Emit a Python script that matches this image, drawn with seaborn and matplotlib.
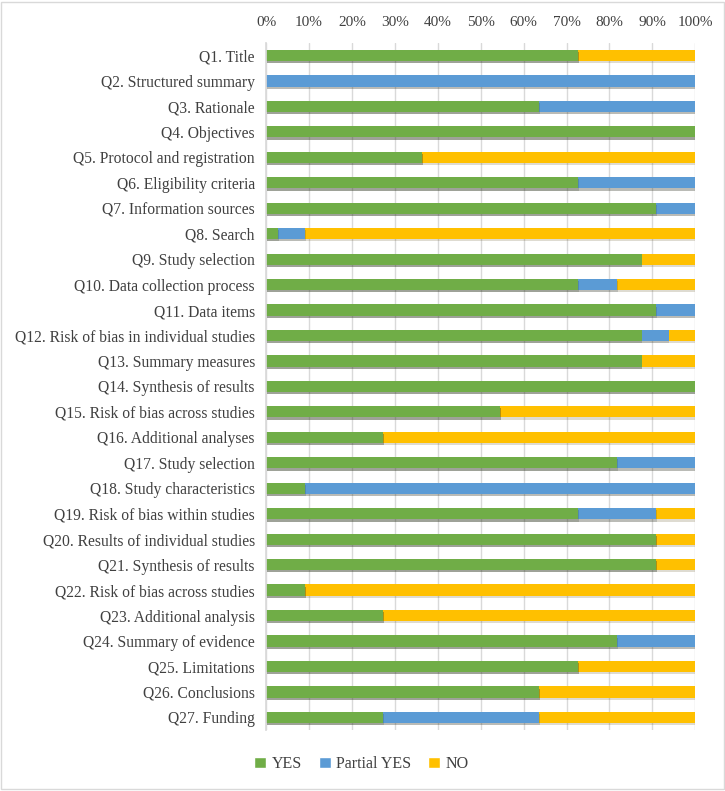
import pandas as pd
import matplotlib
matplotlib.use('Agg')
import matplotlib.pyplot as plt
import matplotlib.patheffects as pe
from matplotlib.patches import Patch, Rectangle
from matplotlib.ticker import PercentFormatter
import seaborn as sns

# Questions (top to bottom) and share of studies per answer, in percent
QUESTIONS = ["Q1. Title", "Q2. Structured summary", "Q3. Rationale", "Q4. Objectives",
             "Q5. Protocol and registration", "Q6. Eligibility criteria",
             "Q7. Information sources", "Q8. Search", "Q9. Study selection",
             "Q10. Data collection process", "Q11. Data items",
             "Q12. Risk of bias in individual studies", "Q13. Summary measures",
             "Q14. Synthesis of results", "Q15. Risk of bias across studies",
             "Q16. Additional analyses", "Q17. Study selection",
             "Q18. Study characteristics", "Q19. Risk of bias within studies",
             "Q20. Results of individual studies", "Q21. Synthesis of results",
             "Q22. Risk of bias across studies", "Q23. Additional analysis",
             "Q24. Summary of evidence", "Q25. Limitations", "Q26. Conclusions",
             "Q27. Funding"]

YES = [72.7, 0, 63.6, 100, 36.4, 72.7, 90.9, 2.8, 87.5, 72.7, 90.9, 87.5, 87.5, 100,
       54.5, 27.3, 81.8, 9.1, 72.7, 90.9, 90.9, 9.1, 27.3, 81.8, 72.7, 63.6, 27.3]
PARTIAL = [0, 100, 36.4, 0, 0, 27.3, 9.1, 6.3, 0, 9.1, 9.1, 6.3, 0, 0,
           0, 0, 18.2, 90.9, 18.2, 0, 0, 0, 0, 18.2, 0, 0, 36.4]
NO = [27.3, 0, 0, 0, 63.6, 0, 0, 90.9, 12.5, 18.2, 0, 6.2, 12.5, 0,
      45.5, 72.7, 0, 0, 9.1, 9.1, 9.1, 90.9, 72.7, 0, 27.3, 36.4, 36.3]

COLORS = {"YES": "#70AD47", "Partial YES": "#5B9BD5", "NO": "#FFC000"}

df = pd.DataFrame({"question": QUESTIONS, "yes": YES, "partial": PARTIAL, "no": NO})
df["cum_partial"] = df["yes"] + df["partial"]
df["cum_no"] = df["cum_partial"] + df["no"]

sns.set_theme(style="white")
plt.rcParams['font.family'] = ['Liberation Serif', 'DejaVu Serif']

fig = plt.figure(figsize=(7.25, 7.91), dpi=100)
ax = fig.add_axes([0.367, 0.077, 0.592, 0.869])

shadow = [pe.SimplePatchShadow(offset=(0.6, -1.6), alpha=0.18), pe.Normal()]

# stacked bars: draw cumulative totals back to front
for col, label in [("cum_no", "NO"), ("cum_partial", "Partial YES"), ("yes", "YES")]:
    sns.barplot(data=df, x=col, y="question", order=QUESTIONS, color=COLORS[label],
                orient="h", width=0.44, saturation=1, ax=ax, zorder=2)

for bar in ax.patches:
    bar.set_path_effects(shadow)
    bar.set_linewidth(0)

ax.set_xlim(0, 100)
ax.set_ylim(26.5, -0.5)
ax.set_xticks(range(0, 101, 10))
ax.xaxis.set_major_formatter(PercentFormatter(decimals=0))
ax.xaxis.tick_top()
ax.tick_params(axis='x', length=0, pad=10, labelsize=11, colors="#404040")
ax.tick_params(axis='y', length=0, pad=8, labelsize=11.25, colors="#404040")
ax.set_xlabel("")
ax.set_ylabel("")
ax.grid(axis='x', color="#D9D9D9", linewidth=1, zorder=0)
ax.set_axisbelow(True)
for side in ["top", "right", "bottom"]:
    ax.spines[side].set_visible(False)
ax.spines["left"].set_color("#D9D9D9")

handles = [Patch(facecolor=COLORS[k], label=k) for k in ["YES", "Partial YES", "NO"]]
fig.legend(handles=handles, loc="center", bbox_to_anchor=(0.4986, 0.034), ncol=3,
           frameon=False, fontsize=11.5, handlelength=0.75, handleheight=0.75,
           columnspacing=1.05, handletextpad=0.35, labelcolor="#404040")

# light border round the whole picture
fig.patches.append(Rectangle((0.002, 0.002), 0.996, 0.996, transform=fig.transFigure,
                             fill=False, edgecolor="#D9D9D9", linewidth=1))

fig.savefig("out.png", dpi=100)
